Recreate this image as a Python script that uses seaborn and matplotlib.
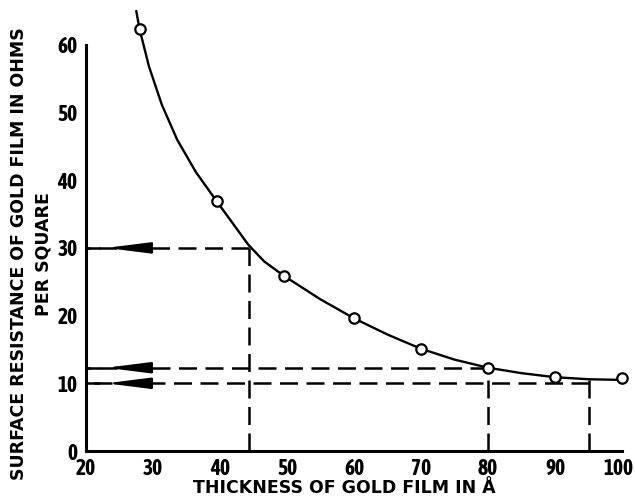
import matplotlib
matplotlib.use("Agg")
import matplotlib.pyplot as plt
import matplotlib.transforms as mtransforms
from matplotlib import font_manager as fm
from matplotlib import patheffects as pe
import pandas as pd
import seaborn as sns

# measured points (open circles)
thickness = [28, 39.5, 49.5, 60, 70, 80, 90, 100]
resistance = [62.3, 36.9, 25.9, 19.6, 15.1, 12.3, 10.9, 10.8]

# hand-drawn fitted curve
curve_x = [27.5, 28.0, 29.4, 31.3, 33.6, 36.4, 39.5, 42.0, 44.2, 46.6, 49.5,
           55.0, 60.0, 65.0, 70.0, 75.0, 80.0, 85.0, 90.0, 95.0, 100.0]
curve_y = [65.0, 62.3, 56.8, 51.2, 46.0, 41.2, 36.9, 33.5, 30.5, 28.0, 25.9,
           22.4, 19.6, 17.2, 15.1, 13.5, 12.3, 11.5, 10.9, 10.6, 10.5]

# dashed read-off lines: (thickness, resistance level, top of vertical)
guide_x = [44.3, 80, 95]
guide_level = [30, 12.3, 10.0]
guide_top = [30, 12.3, 10.6]

x_ticks = [20, 30, 40, 50, 60, 70, 80, 90, 100]
y_ticks = [0, 10, 20, 30, 40, 50, 60]

sns.set_style("white")
plt.rcParams["font.family"] = ["DejaVu Sans"]
plt.rcParams.update({"text.color": "black", "axes.labelcolor": "black",
                     "xtick.color": "black", "ytick.color": "black"})


def _w(f):
    w = f.weight
    return fm.weight_dict.get(w, 400) if isinstance(w, str) else w


# narrow face for the tick numbers; thicken it if only a light weight exists
narrow = [f for f in fm.fontManager.ttflist
          if "Narrow" in f.name or "Condensed" in f.name]
bold_narrow = [f.name for f in narrow if _w(f) >= 600]
if bold_narrow:
    tick_family, tick_effect = bold_narrow[0], []
elif narrow:
    names = [f.name for f in narrow]
    tick_family = ("Liberation Sans Narrow" if "Liberation Sans Narrow" in names
                   else names[0])
    tick_effect = [pe.withStroke(linewidth=1.3, foreground="black")]
else:
    tick_family, tick_effect = "Liberation Sans", []
tick_size = 15.5 if narrow else 12.5

fig = plt.figure(figsize=(6.35, 5.01), dpi=100)
ax = fig.add_axes([86 / 635, 50 / 501, 536 / 635, 446.8 / 501])

pts = pd.DataFrame({"x": thickness, "y": resistance})
crv = pd.DataFrame({"x": curve_x, "y": curve_y})

sns.lineplot(data=crv, x="x", y="y", sort=False, color="black", lw=1.7,
             ax=ax, clip_on=False, zorder=3)

dash = (0, (7.2, 3.4))
for gx, gy, gt in zip(guide_x, guide_level, guide_top):
    ax.plot([gx, 20], [gy, gy], color="black", lw=1.8, linestyle=dash,
            zorder=2, clip_on=False)
    ax.plot([20, 22.0], [gy, gy], color="black", lw=1.8, zorder=2,
            clip_on=False)
    ax.plot([gx, gx], [0, gt], color="black", lw=1.8, linestyle=dash, zorder=2)
    ax.annotate("", xy=(23.0, gy), xytext=(29.0, gy),
                arrowprops=dict(arrowstyle="-|>,head_length=2.7,head_width=0.34",
                                color="black", lw=1.5, mutation_scale=10,
                                shrinkA=0, shrinkB=0), zorder=4)

sns.scatterplot(data=pts, x="x", y="y", marker="o", s=56, color="white",
                edgecolor="black", linewidth=1.6, ax=ax, clip_on=False, zorder=5)

ax.set_xlim(20, 100)
ax.set_ylim(0, 66)
ax.set_xticks(x_ticks)
ax.set_yticks(y_ticks)

for s in ["top", "right"]:
    ax.spines[s].set_visible(False)
ax.spines["left"].set_bounds(0, 60)
ax.spines["bottom"].set_bounds(20, 100)
for s in ["left", "bottom"]:
    ax.spines[s].set_linewidth(2.2)
    ax.spines[s].set_color("black")

tick_font = dict(family=[tick_family, "DejaVu Sans"], weight="bold",
                 size=tick_size)
ax.tick_params(axis="x", direction="in", length=10, width=2, pad=5)
ax.tick_params(axis="y", direction="in", length=12, width=2, pad=6)
ax.set_xticklabels([str(t) for t in x_ticks], fontdict=tick_font)
ax.set_yticklabels([str(t) for t in y_ticks], fontdict=tick_font)
for lab in ax.get_xticklabels() + ax.get_yticklabels():
    lab.set_path_effects(tick_effect)

# keep "100" inside the canvas
last = ax.get_xticklabels()[-1]
last.set_transform(last.get_transform() +
                   mtransforms.ScaledTranslation(-4 / 100, 0, fig.dpi_scale_trans))

ax.set_xlabel("THICKNESS OF GOLD FILM IN Å", fontsize=12.5, fontweight="bold")
ax.xaxis.set_label_coords((344 - 86) / 536, (451 - 479) / 446.8)

ax.set_ylabel("SURFACE RESISTANCE OF GOLD FILM IN OHMS\nPER SQUARE",
              fontsize=12.5, fontweight="bold", linespacing=1.45)
ax.yaxis.label.set_rotation_mode("default")
ax.yaxis.label.set_va("center")
ax.yaxis.label.set_ha("center")
ax.yaxis.set_label_coords((31.5 - 86) / 536, (451 - 254) / 446.8)

fig.savefig("out.png", dpi=100)
